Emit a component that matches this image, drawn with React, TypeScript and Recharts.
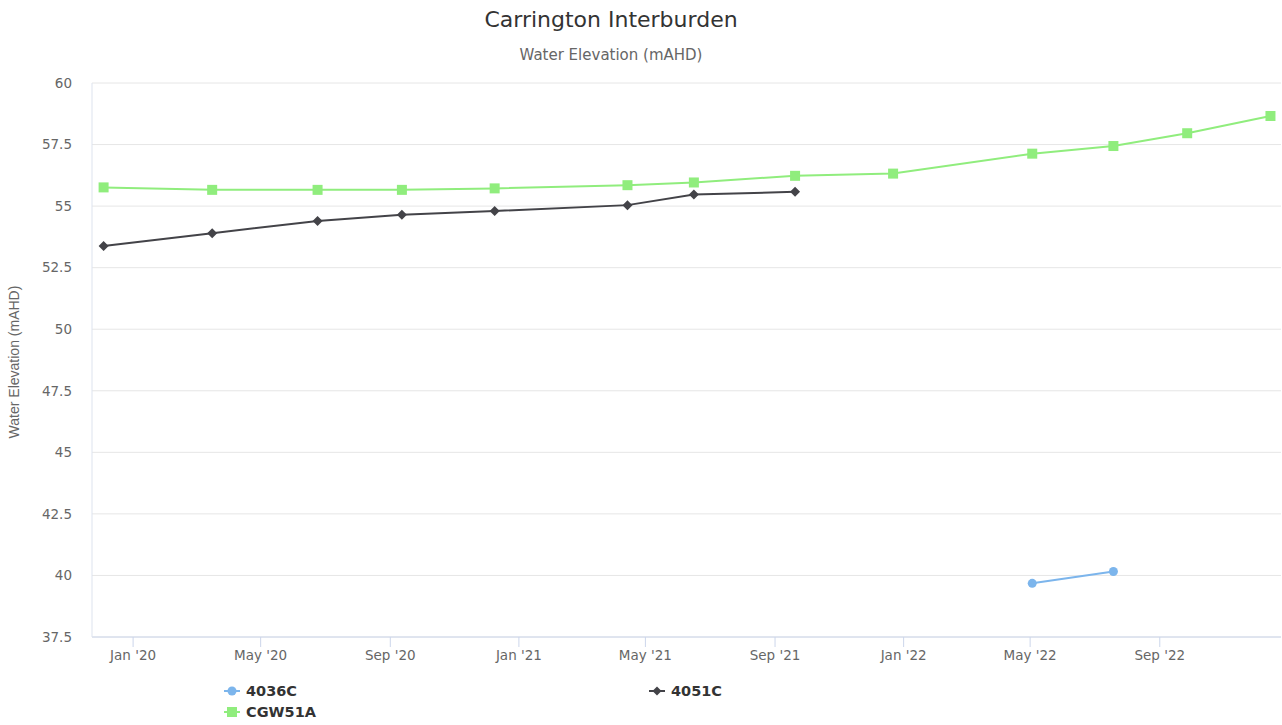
import { LineChart, Line, XAxis, YAxis, CartesianGrid } from 'recharts';

// sample dates (UTC) and water elevations
const cgwDates = ['2019-12-04', '2020-03-16', '2020-06-24', '2020-09-12', '2020-12-09', '2021-04-14', '2021-06-16', '2021-09-20', '2021-12-22', '2022-05-03', '2022-07-19', '2022-09-27', '2022-12-15'];
const cgwValues = [55.76, 55.66, 55.66, 55.66, 55.72, 55.85, 55.96, 56.23, 56.32, 57.13, 57.44, 57.96, 58.66];

const w4051Dates = ['2019-12-04', '2020-03-16', '2020-06-24', '2020-09-12', '2020-12-09', '2021-04-14', '2021-06-16', '2021-09-20'];
const w4051Values = [53.38, 53.9, 54.4, 54.65, 54.8, 55.04, 55.47, 55.58];

const w4036Dates = ['2022-05-03', '2022-07-19'];
const w4036Values = [39.68, 40.16];

const xTickDates = ['2020-01-01', '2020-05-01', '2020-09-01', '2021-01-01', '2021-05-01', '2021-09-01', '2022-01-01', '2022-05-01', '2022-09-01'];
const yTicks = [37.5, 40, 42.5, 45, 47.5, 50, 52.5, 55, 57.5, 60];
const xDomain = ['2019-11-23', '2022-12-25'];

const MONTHS = ['Jan', 'Feb', 'Mar', 'Apr', 'May', 'Jun', 'Jul', 'Aug', 'Sep', 'Oct', 'Nov', 'Dec'];
const toTime = (s: string) => Date.parse(s + 'T00:00:00Z');
const fmtDate = (t: number) => {
  const d = new Date(t);
  return `${MONTHS[d.getUTCMonth()]} '${String(d.getUTCFullYear()).slice(2)}`;
};
const zip = (dates: string[], vals: number[]) => dates.map((d, i) => ({ t: toTime(d), v: vals[i] }));

const C = { blue: '#7cb5ec', dark: '#434348', green: '#90ed7d', text: '#666666', title: '#333333', grid: '#e6e6e6', axis: '#ccd6eb' };
const FONT = '"DejaVu Sans", Verdana, sans-serif';

const square = (color: string) => (p: any) => (
  <rect key={p.index} x={p.cx - 5} y={p.cy - 5} width={10} height={10} fill={color} />
);
const diamond = (color: string) => (p: any) => (
  <path key={p.index} d={`M${p.cx},${p.cy - 5}L${p.cx + 5},${p.cy}L${p.cx},${p.cy + 5}L${p.cx - 5},${p.cy}Z`} fill={color} />
);
const circle = (color: string) => (p: any) => (
  <circle key={p.index} cx={p.cx} cy={p.cy} r={4.5} fill={color} />
);

const series = [
  { name: '4036C', color: C.blue, data: zip(w4036Dates, w4036Values), dot: circle, marker: 'circle' },
  { name: '4051C', color: C.dark, data: zip(w4051Dates, w4051Values), dot: diamond, marker: 'diamond' },
  { name: 'CGW51A', color: C.green, data: zip(cgwDates, cgwValues), dot: square, marker: 'square' },
];

function LegendMark({ color, marker }: { color: string; marker: string }) {
  return (
    <svg width={16} height={12} style={{ marginRight: 6 }}>
      <line x1={0} y1={6} x2={16} y2={6} stroke={color} strokeWidth={2} />
      {marker === 'circle' && <circle cx={8} cy={6} r={4.5} fill={color} />}
      {marker === 'square' && <rect x={3} y={1} width={10} height={10} fill={color} />}
      {marker === 'diamond' && <path d="M8,1.5L12.5,6L8,10.5L3.5,6Z" fill={color} />}
    </svg>
  );
}

export default function App() {
  return (
    <div style={{ position: 'absolute', left: 0, top: 0, width: 1282, height: 725, background: '#fff', fontFamily: FONT, overflow: 'hidden' }}>
      <div style={{ position: 'absolute', left: 0, width: 1222, top: 7, textAlign: 'center', fontSize: 22, color: C.title }}>Carrington Interburden</div>
      <div style={{ position: 'absolute', left: 0, width: 1222, top: 46, textAlign: 'center', fontSize: 15, color: C.text }}>Water Elevation (mAHD)</div>
      <div style={{ position: 'absolute', left: 14, top: 362, transform: 'translate(-50%, -50%) rotate(-90deg)', whiteSpace: 'nowrap', fontFamily: '"Liberation Sans", Arial, sans-serif', fontSize: 14, color: C.text }}>
        Water Elevation (mAHD)
      </div>

      <LineChart width={1282} height={725} margin={{ top: 83, right: 1, left: 0, bottom: 58 }} style={{ position: 'absolute', left: 0, top: 0 }}>
        <CartesianGrid horizontal vertical={false} stroke={C.grid} />
        <XAxis
          dataKey="t"
          type="number"
          scale="time"
          domain={xDomain.map(toTime)}
          ticks={xTickDates.map(toTime)}
          tickFormatter={fmtDate}
          allowDataOverflow
          height={30}
          stroke={C.axis}
          tickSize={10}
          tickMargin={3}
          tick={{ fill: C.text, fontSize: 13.5, fontFamily: FONT }}
        />
        <YAxis
          type="number"
          domain={[37.5, 60]}
          ticks={yTicks}
          width={92}
          stroke="#dde3ee"
          tickLine={false}
          tickSize={6}
          tickMargin={14}
          tick={{ fill: C.text, fontSize: 13.5, fontFamily: FONT }}
        />
        {series.map(s => (
          <Line
            key={s.name}
            data={s.data}
            dataKey="v"
            name={s.name}
            type="linear"
            stroke={s.color}
            strokeWidth={2}
            dot={s.dot(s.color)}
            activeDot={false}
            isAnimationActive={false}
          />
        ))}
      </LineChart>

      <div style={{ position: 'absolute', left: 224, top: 682, display: 'grid', gridTemplateColumns: '425px 200px', rowGap: 3, fontSize: 14.5, fontWeight: 'bold', color: C.title }}>
        {series.map(s => (
          <div key={s.name} style={{ display: 'flex', alignItems: 'center', height: 18 }}>
            <LegendMark color={s.color} marker={s.marker} />
            {s.name}
          </div>
        ))}
      </div>
    </div>
  );
}
